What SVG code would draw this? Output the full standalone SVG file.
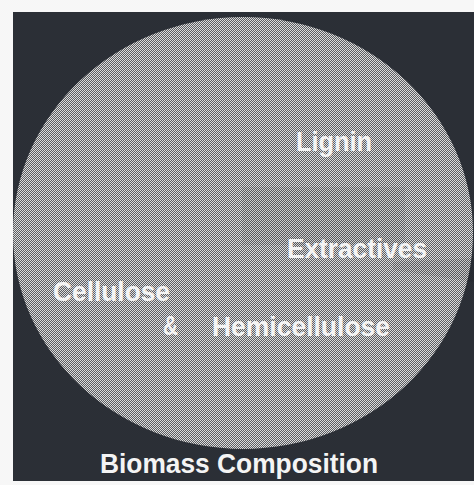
<svg xmlns="http://www.w3.org/2000/svg" width="474" height="485" viewBox="0 0 474 485">
  <defs>
    <pattern id="dither" x="0" y="0" width="2" height="2" patternUnits="userSpaceOnUse">
      <rect x="0" y="0" width="2" height="2" fill="#5c5e62"/>
      <rect x="0" y="0" width="1" height="1" fill="#dcdcdc"/>
      <rect x="1" y="1" width="1" height="1" fill="#dcdcdc"/>
    </pattern>
  </defs>
  <style>
    .lbl { font-family: "Liberation Sans", Arial, sans-serif; font-weight: bold; font-size: 28px; fill: #f4f4f4; }
  </style>
  <rect x="0" y="0" width="474" height="485" fill="#f7f7f7"/>
  <rect id="background" x="13" y="12" width="461" height="469" fill="#2b2f36"/>
  <g id="pie">
    <ellipse cx="243" cy="233" rx="230" ry="216" fill="url(#dither)"/>
    <path d="M242,187 L405,187 L405,245 L242,245 Z" fill="#000" opacity="0.06"/>
    <path d="M393,262 L474,258 L474,282 L393,270 Z" fill="#000" opacity="0.07"/>
  </g>
  <g id="label-lignin"><text class="lbl" x="296" y="151" textLength="76" lengthAdjust="spacingAndGlyphs">Lignin</text></g>
  <g id="label-extractives"><text class="lbl" x="287" y="258" textLength="140" lengthAdjust="spacingAndGlyphs">Extractives</text></g>
  <g id="label-cellulose"><text class="lbl" x="53" y="301" textLength="117" lengthAdjust="spacingAndGlyphs">Cellulose</text></g>
  <g id="label-and"><text class="lbl" x="163" y="335" textLength="15" lengthAdjust="spacingAndGlyphs">&amp;</text></g>
  <g id="label-hemicellulose"><text class="lbl" x="212" y="336" textLength="178" lengthAdjust="spacingAndGlyphs">Hemicellulose</text></g>
  <g id="title"><text class="lbl" x="100" y="473" textLength="278" lengthAdjust="spacingAndGlyphs">Biomass Composition</text></g>
</svg>
